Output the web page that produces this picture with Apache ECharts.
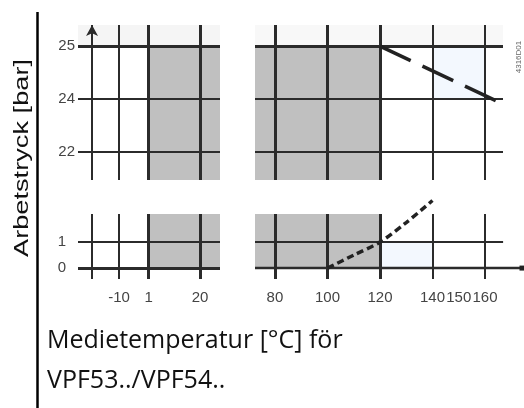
<!DOCTYPE html>
<html>
<head>
<meta charset="utf-8">
<script src="https://cdn.jsdelivr.net/npm/echarts@6/dist/echarts.min.js"></script>
<style>
  html, body { margin: 0; padding: 0; background: #fff; }
  #main { width: 524px; height: 408px; }
</style>
</head>
<body>
<div id="main"></div>
<script>
// temperature gridlines / labels (°C)
const xLeftLines = [-20, -10, 1, 20];
const xRightLines = [80, 100, 120, 140, 160];
const xLeftLabels = [-10, 1, 20];
const xRightLabels = [80, 100, 120, 140, 150, 160];
// pressure labels, top band is schematic: 22, 24, 25 sit on evenly spaced slots 0, 1, 2
const yTopLabels = ['22', '24', '25'];
const yBottomLabels = [0, 1];
// permitted range (grey): from 1 °C up to 120 °C, up to 25 bar (slot 2)
const grayFrom = 1;
const grayTo = 120;
const grayTopSlot = 2;
// dashed limit line in the top band (temperature, slot)
const limitLine = [[120, 2], [165.4, 0.94]];
// dashed saturation curve in the bottom band (temperature, bar)
const vaporCurve = [[100, 0], [110, 0.5], [120, 1], [130, 1.75], [140, 2.6]];
const axisEnd = 174.1;
const arrowLine = -20;

const LEFT = [-25.2, 27.4], RIGHT = [72.4, 166.9];
const TOP = [-0.53, 2.4], BOTTOM = [-0.42, 2.08];
const lineColor = '#2b2b2b';
const grayColor = '#c0c0c0';
const labelFont = { fontFamily: 'Liberation Sans', fontSize: 15, color: '#444' };

let chartDom = document.getElementById('main');
let myChart = echarts.init(chartDom);

function vLines(vals, inGray) {
  return vals.map(v => ({ xAxis: v, lineStyle: { width: inGray(v) ? 3 : 2 } }));
}
function hLines(vals, thickAt) {
  return vals.map(v => ({ yAxis: v, lineStyle: { width: v === thickAt ? 3 : 2 } }));
}
function frame(idx, lines, areas, symbol) {
  return {
    type: 'line',
    xAxisIndex: idx,
    yAxisIndex: idx,
    data: [],
    silent: true,
    markArea: { silent: true, data: areas || [] },
    markLine: {
      silent: true,
      symbol: symbol || ['none', 'none'],
      symbolSize: [9, 11],
      label: { show: false },
      lineStyle: { color: lineColor, type: 'solid' },
      emphasis: { disabled: true },
      data: lines
    }
  };
}
function area(x0, y0, x1, y1, color) {
  return [{ coord: [x0, y0], itemStyle: { color: color } }, { coord: [x1, y1] }];
}

const topSlots = yTopLabels.map((_, i) => i);
const leftGray = v => v >= grayFrom;
const rightGray = v => v <= grayTo;
const pxPerDeg = 248 / (RIGHT[1] - RIGHT[0]);

let option = {
  animation: false,
  grid: [
    { left: 78, top: 25, width: 142, height: 155 },
    { left: 255, top: 25, width: 248, height: 155 },
    { left: 78, top: 214, width: 142, height: 65 },
    // bottom right runs on to the end of the temperature axis
    { left: 255, top: 214, width: Math.round((axisEnd - RIGHT[0]) * pxPerDeg), height: 65 }
  ],
  xAxis: [0, 1, 2, 3].map(i => ({
    type: 'value',
    gridIndex: i,
    min: i % 2 === 0 ? LEFT[0] : RIGHT[0],
    max: i % 2 === 0 ? LEFT[1] : (i === 3 ? axisEnd : RIGHT[1]),
    axisLine: { show: false },
    axisTick: { show: false },
    splitLine: { show: false },
    axisLabel: i < 2 ? { show: false } : Object.assign({
      margin: 11,
      customValues: i === 2 ? xLeftLabels : xRightLabels
    }, labelFont)
  })),
  yAxis: [0, 1, 2, 3].map(i => ({
    type: 'value',
    gridIndex: i,
    min: i < 2 ? TOP[0] : BOTTOM[0],
    max: i < 2 ? TOP[1] : BOTTOM[1],
    axisLine: { show: false },
    axisTick: { show: false },
    splitLine: { show: false },
    axisLabel: i % 2 === 1 ? { show: false } : Object.assign({
      margin: i === 0 ? 3 : 12,
      customValues: i === 0 ? topSlots : yBottomLabels,
      formatter: v => (i === 0 ? yTopLabels[Math.round(v)] : String(v))
    }, labelFont)
  })),
  series: [
    frame(0, vLines(xLeftLines.filter(v => v !== arrowLine), leftGray).concat(hLines(topSlots, grayTopSlot)), [
      area(LEFT[0], grayTopSlot, LEFT[1], TOP[1], '#f5f5f5'),
      area(grayFrom, TOP[0], LEFT[1], grayTopSlot, grayColor)
    ]),
    // value axis with arrow head
    frame(0, vLines([arrowLine], leftGray), null, ['none', 'arrow']),
    frame(1, vLines(xRightLines, rightGray).concat(hLines(topSlots, grayTopSlot)), [
      area(RIGHT[0], grayTopSlot, RIGHT[1], TOP[1], '#f8f8f8'),
      area(RIGHT[0], TOP[0], grayTo, grayTopSlot, grayColor),
      area(140, 1, 160, 2, '#f3f8fe')
    ]),
    frame(2, vLines(xLeftLines, leftGray).concat(hLines(yBottomLabels, 0)), [
      area(grayFrom, 0, LEFT[1], BOTTOM[1], grayColor)
    ]),
    frame(3, vLines(xRightLines, rightGray).concat([
      [{ coord: [RIGHT[0], 1], lineStyle: { width: 2 } }, { coord: [RIGHT[1], 1] }]
    ]), [
      area(RIGHT[0], 0, grayTo, BOTTOM[1], grayColor),
      area(120, 0, 140, 1, '#f3f8fe')
    ]),
    {
      type: 'line',
      xAxisIndex: 1,
      yAxisIndex: 1,
      z: 5,
      clip: false,
      symbol: 'none',
      lineStyle: { color: '#222', width: 3.5, type: [34, 13], cap: 'butt' },
      data: limitLine
    },
    {
      type: 'line',
      xAxisIndex: 3,
      yAxisIndex: 3,
      z: 5,
      clip: false,
      smooth: 0.3,
      symbol: 'none',
      lineStyle: { color: '#222', width: 3.5, type: [7, 4], cap: 'butt' },
      data: vaporCurve
    },
    // temperature axis at 0 bar with its end dot
    {
      type: 'line',
      xAxisIndex: 3,
      yAxisIndex: 3,
      z: 4,
      clip: false,
      symbol: 'rect',
      symbolSize: 5,
      showSymbol: true,
      itemStyle: { color: '#222' },
      lineStyle: { color: lineColor, width: 2.5 },
      data: [
        { value: [RIGHT[0], 0], symbol: 'none' },
        [axisEnd, 0]
      ]
    }
  ],
  graphic: [
    {
      type: 'line',
      shape: { x1: 37.5, y1: 12, x2: 37.5, y2: 408 },
      style: { stroke: '#000', lineWidth: 2.5 }
    },
    {
      type: 'text',
      x: 22,
      y: 158,
      rotation: Math.PI / 2,
      scaleX: 1.36,
      style: {
        text: 'Arbetstryck [bar]',
        fontFamily: 'Liberation Sans',
        fontSize: 20,
        fill: '#111',
        textAlign: 'center',
        textVerticalAlign: 'middle'
      }
    },
    {
      type: 'text',
      x: 519,
      y: 57,
      rotation: Math.PI / 2,
      style: {
        text: '4316D01',
        fontFamily: 'Liberation Sans',
        fontSize: 8,
        fill: '#666',
        textAlign: 'center',
        textVerticalAlign: 'middle'
      }
    },
    {
      type: 'text',
      x: 47,
      y: 341,
      style: {
        text: 'Medietemperatur [°C] för',
        fontFamily: 'Open Sans',
        fontSize: 25,
        fill: '#111',
        textVerticalAlign: 'middle'
      }
    },
    {
      type: 'text',
      x: 47,
      y: 381,
      style: {
        text: 'VPF53../VPF54..',
        fontFamily: 'Open Sans',
        fontSize: 25,
        fill: '#111',
        textVerticalAlign: 'middle'
      }
    }
  ]
};

option && myChart.setOption(option);
</script>
</body>
</html>
